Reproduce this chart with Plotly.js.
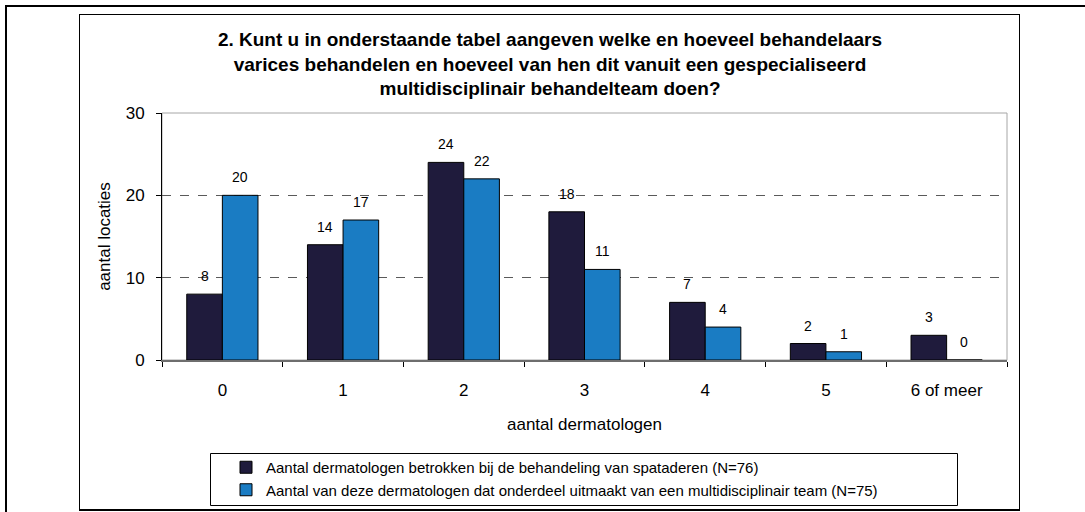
<!DOCTYPE html>
<html>
<head>
<meta charset="utf-8">
<script src="https://cdn.plot.ly/plotly-3.0.1.min.js"></script>
<style>
  html, body { margin: 0; padding: 0; background: #fff; }
  #wrap { position: relative; width: 1085px; height: 512px; overflow: hidden; }
  #chart { position: absolute; left: 0; top: 0; width: 1085px; height: 512px; z-index: 1; }
  .frame { position: absolute; pointer-events: none; box-sizing: border-box; z-index: 5; }
  #outerTop { left: 5px; top: 5px; width: 1080px; height: 2px; background: #000; }
  #outerLeft { left: 5px; top: 5px; width: 2px; height: 507px; background: #000; }
  #box { left: 79px; top: 14px; width: 941px; height: 497px;
         border: 1px solid #000; border-bottom: 2px solid #000; }
</style>
</head>
<body>
<div id="wrap">
  <div id="chart"></div>
  <div class="frame" id="outerTop"></div>
  <div class="frame" id="outerLeft"></div>
  <div class="frame" id="box"></div>
</div>
<script>
// ---- data ----
const categories = ['0', '1', '2', '3', '4', '5', '6 of meer'];
const seriesNames = [
  'Aantal dermatologen betrokken bij de behandeling van spataderen (N=76)',
  'Aantal van deze dermatologen dat onderdeel uitmaakt van een multidisciplinair team (N=75)'
];
const dermatologen = [8, 14, 24, 18, 7, 2, 3];
const multidisciplinair = [20, 17, 22, 11, 4, 1, 0];
const yTicks = [0, 10, 20, 30];

const titleText = '2. Kunt u in onderstaande tabel aangeven welke en hoeveel behandelaars<br>' +
  'varices behandelen en hoeveel van hen dit vanuit een gespecialiseerd<br>' +
  'multidisciplinair behandelteam doen?';

// ---- layout geometry (pixels) ----
const W = 1085, H = 512;
const L = 162, R = 1007, T = 113, B = 360;
const pw = R - L, ph = B - T;
const px = v => (v - L) / pw;
const py = v => (B - v) / ph;

const FONT = 'Liberation Sans, Arial, Helvetica, sans-serif';
const colors = ['#1f1b3c', '#1a7cc3'];
const bargap = 0.41;
const catW = pw / categories.length;
const barW = catW * (1 - bargap) / 2;

const traces = [dermatologen, multidisciplinair].map((vals, i) => ({
  type: 'bar',
  name: seriesNames[i],
  x: categories,
  y: vals,
  marker: { color: colors[i], line: { color: '#000', width: 1 } },
  legendgroup: 'g' + i,
  hoverinfo: 'x+y'
}));

const annotations = [];
[dermatologen, multidisciplinair].forEach((vals, s) => {
  vals.forEach((v, i) => {
    annotations.push({
      x: categories[i], y: v, xref: 'x', yref: 'y',
      text: String(v), showarrow: false,
      xshift: (s === 0 ? -1 : 1) * barW / 2,
      yshift: 18, yanchor: 'middle', xanchor: 'center',
      font: { family: FONT, size: 14, color: '#000' }
    });
  });
});

const shapes = [
  // plot area border (gray)
  { type: 'rect', xref: 'paper', yref: 'paper', x0: 0, x1: 1, y0: 0, y1: 1,
    line: { color: '#a6a6a6', width: 1 }, layer: 'below' },
  // legend box
  { type: 'rect', xref: 'paper', yref: 'paper',
    x0: px(210.5), x1: px(957.5), y0: py(505.5), y1: py(453.5),
    line: { color: '#000', width: 1 }, fillcolor: 'rgba(0,0,0,0)' }
];

const layout = {
  width: W, height: H,
  margin: { l: L, r: W - R, t: T, b: H - B, pad: 0, autoexpand: false },
  paper_bgcolor: '#fff', plot_bgcolor: '#fff',
  font: { family: FONT, size: 16, color: '#000' },
  title: {
    text: titleText,
    font: { family: FONT, size: 19, color: '#000', weight: 'bold' },
    x: 550 / W, xanchor: 'center', xref: 'container',
    y: 1 - 46 / H, yanchor: 'middle', yref: 'container'
  },
  barmode: 'group',
  bargap: bargap,
  bargroupgap: 0,
  showlegend: true,
  legend: {
    x: px(226), y: py(451), xanchor: 'left', yanchor: 'top',
    xref: 'paper', yref: 'paper',
    bgcolor: 'rgba(0,0,0,0)', borderwidth: 0,
    font: { family: FONT, size: 15, color: '#000' },
    traceorder: 'normal', tracegroupgap: 20,
    itemwidth: 30
  },
  xaxis: {
    type: 'category',
    tickson: 'boundaries',
    ticks: 'outside', ticklen: 5, tickcolor: '#000', tickwidth: 1,
    showline: true, linecolor: '#6e6e6e', linewidth: 2,
    showgrid: false, zeroline: false,
    ticklabelstandoff: 14,
    tickfont: { family: FONT, size: 17, color: '#000' },
    title: { text: 'aantal dermatologen', standoff: 19,
             font: { family: FONT, size: 17, color: '#000' } },
    automargin: false,
    fixedrange: true
  },
  yaxis: {
    range: [0, 30],
    tickvals: yTicks,
    ticks: 'outside', ticklen: 5, tickcolor: '#000', tickwidth: 1,
    showline: true, linecolor: '#000', linewidth: 1,
    showgrid: true, gridcolor: '#5a5a5a', griddash: 'dash', gridwidth: 1,
    zeroline: false,
    ticklabelstandoff: 8,
    tickfont: { family: FONT, size: 17, color: '#000' },
    title: { text: 'aantal locaties', standoff: 10,
             font: { family: FONT, size: 17, color: '#000' } },
    automargin: false,
    fixedrange: true
  },
  annotations: annotations,
  shapes: shapes
};

Plotly.newPlot('chart', traces, layout, { displayModeBar: false, staticPlot: true });
</script>
</body>
</html>
